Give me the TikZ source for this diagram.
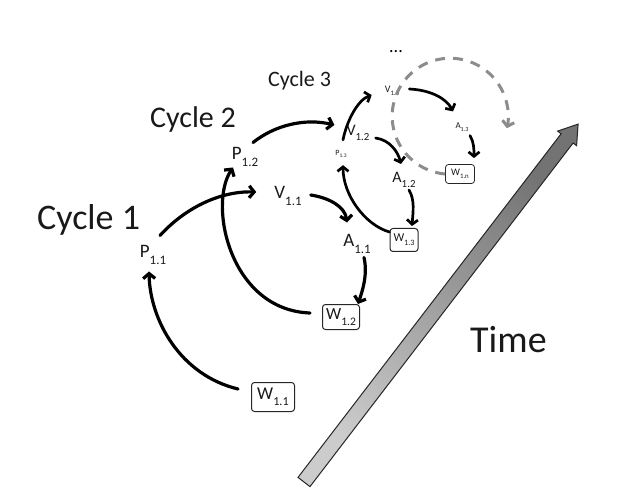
\documentclass[tikz,border=0pt]{standalone}
\usepackage{fontspec}
\setmainfont{Carlito}
\usepackage{graphicx}
\usetikzlibrary{arrows.meta}
\newcommand\lbl[3]{\fontsize{#1}{#1}\selectfont #2\raisebox{-0.33em}{\scalebox{0.68}{#3}}}
\begin{document}
\begin{tikzpicture}[x=1pt,y=-1pt,
  lab/.style={inner sep=1pt, text=black!90},
  title/.style={anchor=base west, inner sep=0pt, text=black!90},
  wbox/.style={draw=black!85, rounded corners=3pt, line width=1pt, inner sep=1pt, text=black!90},
  conn/.style={line width=3.2pt, line cap=round, -{Straight Barb[length=5pt,width=12pt]}},
  sconn/.style={line width=2.7pt, line cap=round, -{Straight Barb[length=4.5pt,width=11pt]}},
  dashconn/.style={line width=3pt, draw=black!45, dash pattern=on 10pt off 8pt, -{Straight Barb[length=5pt,width=12pt]}}]
\useasboundingbox (0,0) rectangle (639,502);
% time arrow
\shade[draw=black!85, line width=1pt, top color=black!55, bottom color=black!20, shading angle=-37.4]
  (298.0,477.4) -- (561.1,133.8) -- (557.6,131.1) -- (578.1,124.1) -- (576.6,145.7) -- (573.1,143.0) -- (310.0,486.6) -- cycle;
% titles
\node[title, font=\fontsize{36}{36}\selectfont] (c1) at (37,230) {Cycle 1};
\node[title, font=\fontsize{30}{30}\selectfont] (c2) at (150,128) {Cycle 2};
\node[title, font=\fontsize{22}{22}\selectfont] (c3) at (268,87) {Cycle 3};
\node[title, font=\fontsize{38}{38}\selectfont] (time) at (470,352) {Time};
\node[anchor=base, inner sep=0pt, font=\fontsize{18}{18}\selectfont] (dots) at (396,53) {...};
% labels
\node[lab] (P11) at (153,255) {\lbl{19}{P}{1.1}};
\node[lab] (V11) at (288,196) {\lbl{19}{V}{1.1}};
\node[lab] (P12) at (245,157) {\lbl{19}{P}{1.2}};
\node[lab] (A11) at (357,244) {\lbl{19}{A}{1.1}};
\node[lab] (V12) at (358,133) {\lbl{16}{V}{1.2}};
\node[lab] (A12) at (404,180) {\lbl{16}{A}{1.2}};
\node[lab] (P13) at (341,154) {\lbl{8}{P}{1.3}};
\node[lab] (V13) at (392,91) {\lbl{10}{V}{1.3}};
\node[lab] (A13) at (462,127) {\lbl{9}{A}{1.3}};
\node[wbox, minimum width=43pt, minimum height=29pt] (W11) at (273,397) {\lbl{18}{W}{1.1}};
\node[wbox, minimum width=37pt, minimum height=25pt] (W12) at (341,317) {\lbl{17}{W}{1.2}};
\node[wbox, minimum width=28pt, minimum height=23pt] (W13) at (404,240) {\lbl{12}{W}{1.3}};
\node[wbox, minimum width=29pt, minimum height=19pt, line width=0.8pt] (W1n) at (460,174) {\lbl{10}{W}{1.n}};
% connectors
\draw[conn] ([shift={(-13,-8)}]W11.west) .. controls (180,375) and (150,320) .. ([shift={(-4,6)}]P11.south);
\draw[conn] ([shift={(7,-9)}]P11.north) .. controls (185,208) and (220,191) .. ([shift={(-17,-4)}]V11.west);
\draw[conn] ([shift={(-12,-4)}]W12.west) .. controls (230,310) and (208,205) .. ([shift={(-12,0)}]P12.south);
\draw[conn] ([shift={(8,-4)}]P12.north) .. controls (275,125) and (305,118) .. ([shift={(-11,-8)}]V12.west);
\draw[conn] ([shift={(8,-1)}]V11.east) .. controls (330,198) and (345,207) .. ([shift={(-10,-11)}]A11.north);
\draw[conn] ([shift={(7,3)}]A11.south) .. controls (368,275) and (362,292) .. ([shift={(-2,0)}]W12.north east);
\draw[sconn] ([shift={(0,-8)}]W13.west) .. controls (365,225) and (343,195) .. ([shift={(2,6)}]P13.south);
\draw[sconn] ([shift={(2,-9)}]P13.north) .. controls (347,120) and (358,100) .. ([shift={(-12,4)}]V13.west);
\draw[sconn] ([shift={(5,5)}]V12.east) .. controls (390,140) and (398,152) .. ([shift={(-3,-7)}]A12.north);
\draw[sconn] ([shift={(5,1)}]A12.south) .. controls (415,200) and (413,212) .. ([shift={(8,-2)}]W13.north);
\draw[sconn] ([shift={(9,-2)}]V13.east) .. controls (430,90) and (446,98) .. ([shift={(-9,-10)}]A13.north);
\draw[sconn] ([shift={(8,3)}]A13.south) .. controls (474,142) and (474,150) .. ([shift={(14,-6)}]W1n.north);
\draw[dashconn] (W1n.west) arc[start angle=95, end angle=372, radius=58];
\end{tikzpicture}
\end{document}
